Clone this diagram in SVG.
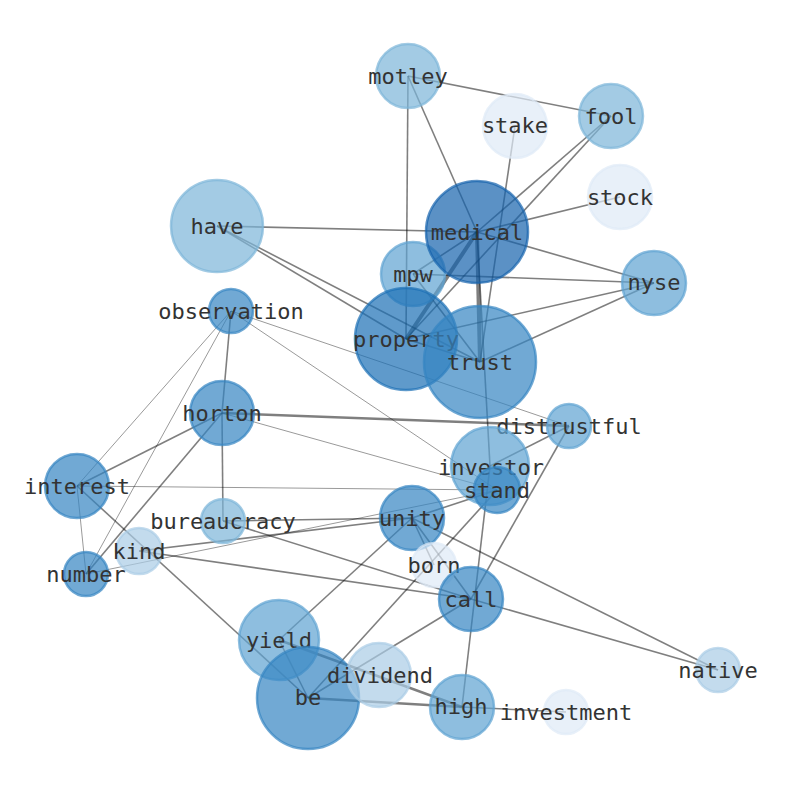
<svg xmlns="http://www.w3.org/2000/svg" width="794" height="790" viewBox="0 0 794 790">
<style>
.e{stroke:#000;stroke-opacity:0.5;stroke-width:1.6;fill:none}
.t{stroke-width:0.8}
.w{stroke-width:4}
.m{stroke-width:2.4}
circle{stroke-width:2.5;fill-opacity:0.7;stroke-opacity:0.7}
.c1{fill:#1563ad;stroke:#1563ad}
.c2{fill:#1b6fb5;stroke:#1b6fb5}
.c4{fill:#3585c2;stroke:#3585c2}
.c5{fill:#5ea2d2;stroke:#5ea2d2}
.c6{fill:#7cb5d8;stroke:#7cb5d8}
.c8{fill:#aacce5;stroke:#aacce5}
.c7{fill:#dee9f6;stroke:#dee9f6}
text{font-family:"DejaVu Sans Mono",monospace;font-size:22px;fill:#333;text-anchor:middle;dominant-baseline:central}
</style>
<rect width="794" height="790" fill="#fff"/>
<g id="edges">
<line class="e" x1="408" y1="76" x2="611" y2="116"/>
<line class="e" x1="408" y1="76" x2="406" y2="339"/>
<line class="e" x1="408" y1="76" x2="477" y2="232"/>
<line class="e" x1="611" y1="116" x2="477" y2="232"/>
<line class="e" x1="611" y1="116" x2="406" y2="339"/>
<line class="e" x1="515" y1="126" x2="480" y2="362"/>
<line class="e" x1="620" y1="197" x2="477" y2="232"/>
<line class="e" x1="217" y1="226" x2="477" y2="232"/>
<line class="e" x1="217" y1="226" x2="406" y2="339"/>
<line class="e" x1="217" y1="226" x2="480" y2="362"/>
<line class="e" x1="477" y1="232" x2="654" y2="283"/>
<line class="e" x1="477" y1="232" x2="413" y2="274"/>
<line class="e w" x1="477" y1="232" x2="406" y2="339"/>
<line class="e w" x1="477" y1="232" x2="480" y2="362"/>
<line class="e" x1="477" y1="232" x2="490" y2="466"/>
<line class="e" x1="413" y1="274" x2="654" y2="283"/>
<line class="e" x1="413" y1="274" x2="480" y2="362"/>
<line class="e" x1="406" y1="339" x2="654" y2="283"/>
<line class="e" x1="480" y1="362" x2="654" y2="283"/>
<line class="e" x1="406" y1="339" x2="480" y2="362"/>
<line class="e" x1="231" y1="311" x2="222" y2="413"/>
<line class="e t" x1="231" y1="311" x2="77" y2="486"/>
<line class="e t" x1="231" y1="311" x2="86" y2="574"/>
<line class="e t" x1="231" y1="311" x2="569" y2="426"/>
<line class="e t" x1="231" y1="311" x2="497" y2="490"/>
<line class="e m" x1="222" y1="413" x2="569" y2="426"/>
<line class="e t" x1="222" y1="413" x2="497" y2="490"/>
<line class="e" x1="222" y1="413" x2="77" y2="486"/>
<line class="e" x1="222" y1="413" x2="86" y2="574"/>
<line class="e" x1="222" y1="413" x2="223" y2="521"/>
<line class="e t" x1="77" y1="486" x2="497" y2="490"/>
<line class="e t" x1="77" y1="486" x2="86" y2="574"/>
<line class="e" x1="77" y1="486" x2="308" y2="698"/>
<line class="e" x1="223" y1="521" x2="412" y2="518"/>
<line class="e" x1="223" y1="521" x2="471" y2="599"/>
<line class="e" x1="139" y1="551" x2="412" y2="518"/>
<line class="e" x1="139" y1="551" x2="471" y2="599"/>
<line class="e t" x1="86" y1="574" x2="497" y2="490"/>
<line class="e" x1="412" y1="518" x2="497" y2="490"/>
<line class="e" x1="412" y1="518" x2="434" y2="565"/>
<line class="e" x1="412" y1="518" x2="471" y2="599"/>
<line class="e" x1="412" y1="518" x2="718" y2="670"/>
<line class="e" x1="412" y1="518" x2="279" y2="640"/>
<line class="e" x1="569" y1="426" x2="490" y2="466"/>
<line class="e" x1="569" y1="426" x2="471" y2="599"/>
<line class="e" x1="490" y1="466" x2="462" y2="707"/>
<line class="e" x1="471" y1="599" x2="718" y2="670"/>
<line class="e" x1="308" y1="698" x2="471" y2="599"/>
<line class="e" x1="308" y1="698" x2="497" y2="490"/>
<line class="e" x1="308" y1="698" x2="279" y2="640"/>
<line class="e m" x1="279" y1="640" x2="462" y2="707"/>
<line class="e m" x1="308" y1="698" x2="462" y2="707"/>
<line class="e" x1="462" y1="707" x2="566" y2="712"/>
</g>
<g id="n-motley"><circle class="c6" cx="408" cy="76" r="32"/><text x="408" y="76">motley</text></g>
<g id="n-fool"><circle class="c6" cx="611" cy="116" r="32"/><text x="611" y="116">fool</text></g>
<g id="n-stake"><circle class="c7" cx="515" cy="126" r="32"/><text x="515" y="125">stake</text></g>
<g id="n-stock"><circle class="c7" cx="620" cy="197" r="32"/><text x="620" y="197">stock</text></g>
<g id="n-have"><circle class="c6" cx="217" cy="226" r="46"/><text x="217" y="226">have</text></g>
<g id="n-mpw"><circle class="c5" cx="413" cy="274" r="32"/><text x="413" y="274">mpw</text></g>
<g id="n-medical"><circle class="c1" cx="477" cy="232" r="51"/><text x="477" y="232">medical</text></g>
<g id="n-nyse"><circle class="c5" cx="654" cy="283" r="32"/><text x="654" y="282">nyse</text></g>
<g id="n-property"><circle class="c2" cx="406" cy="339" r="51"/><text x="406" y="339">property</text></g>
<g id="n-trust"><circle class="c4" cx="480" cy="362" r="56"/><text x="480" y="362">trust</text></g>
<g id="n-observation"><circle class="c4" cx="231" cy="311" r="22"/><text x="231" y="311">observation</text></g>
<g id="n-horton"><circle class="c4" cx="222" cy="413" r="32"/><text x="222" y="413">horton</text></g>
<g id="n-distrustful"><circle class="c5" cx="569" cy="426" r="22"/><text x="569" y="426">distrustful</text></g>
<g id="n-investor"><circle class="c5" cx="490" cy="466" r="39"/><text x="491" y="467">investor</text></g>
<g id="n-stand"><circle class="c4" cx="497" cy="490" r="23"/><text x="497" y="490">stand</text></g>
<g id="n-interest"><circle class="c4" cx="77" cy="486" r="32"/><text x="77" y="486">interest</text></g>
<g id="n-unity"><circle class="c4" cx="412" cy="518" r="32"/><text x="412" y="518">unity</text></g>
<g id="n-bureaucracy"><circle class="c6" cx="223" cy="521" r="22"/><text x="223" y="521">bureaucracy</text></g>
<g id="n-kind"><circle class="c8" cx="139" cy="551" r="23"/><text x="139" y="551">kind</text></g>
<g id="n-number"><circle class="c4" cx="86" cy="574" r="22"/><text x="86" y="574">number</text></g>
<g id="n-born"><circle class="c7" cx="434" cy="565" r="22"/><text x="434" y="565">born</text></g>
<g id="n-call"><circle class="c4" cx="471" cy="599" r="32"/><text x="471" y="599">call</text></g>
<g id="n-yield"><circle class="c5" cx="279" cy="640" r="40"/><text x="279" y="640">yield</text></g>
<g id="n-be"><circle class="c4" cx="308" cy="698" r="51"/><text x="308" y="697">be</text></g>
<g id="n-dividend"><circle class="c8" cx="379" cy="675" r="32"/><text x="380" y="675">dividend</text></g>
<g id="n-high"><circle class="c5" cx="462" cy="707" r="32"/><text x="461" y="706">high</text></g>
<g id="n-investment"><circle class="c7" cx="566" cy="712" r="22"/><text x="566" y="712">investment</text></g>
<g id="n-native"><circle class="c8" cx="718" cy="670" r="22"/><text x="718" y="670">native</text></g>
</svg>
